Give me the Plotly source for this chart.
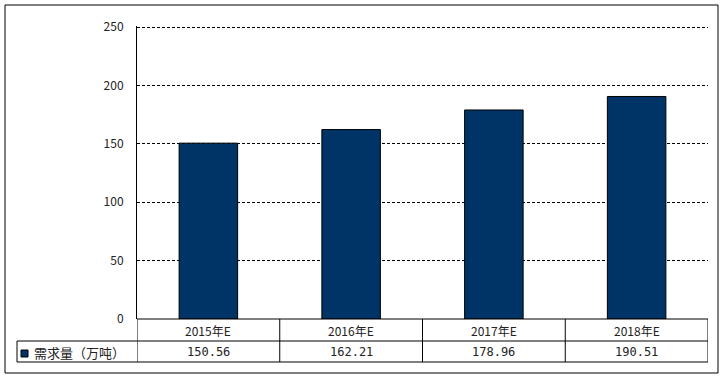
import plotly.graph_objects as go

categories = ["2015年E", "2016年E", "2017年E", "2018年E"]
values = [150.56, 162.21, 178.96, 190.51]
value_labels = ["150.56", "162.21", "178.96", "190.51"]
series_name = "需求量（万吨）"
y_ticks = [0, 50, 100, 150, 200, 250]

W, H = 725, 379
BAR_COLOR = "#003366"
FONT = "Noto Sans CJK SC"
MONO = "DejaVu Sans Mono"

def px_x(x):
    return x / W

def px_y(y):
    return (H - y) / H

plot_left, plot_right = 137, 708
plot_bottom = 319
y_max = 251
plot_top = plot_bottom - (plot_bottom - 27) * y_max / 250
row1_bottom, row2_bottom = 341, 362
legend_left = 17

fig = go.Figure()
fig.add_trace(go.Bar(
    x=categories, y=values, width=0.41,
    marker=dict(color=BAR_COLOR, line=dict(color="black", width=1)),
    showlegend=False, hoverinfo="x+y",
))

shapes = []
line = dict(color="black", width=1)
# outer border
shapes.append(dict(type="rect", xref="paper", yref="paper",
                   x0=px_x(5), x1=px_x(718), y0=px_y(373), y1=px_y(5), line=line))
# table horizontal lines
for yy, x0 in [(plot_bottom, plot_left), (row1_bottom, legend_left), (row2_bottom, legend_left)]:
    shapes.append(dict(type="line", xref="paper", yref="paper",
                       x0=px_x(x0), x1=px_x(plot_right), y0=px_y(yy), y1=px_y(yy), line=line))
# table vertical dividers through category boundaries
n = len(categories)
for i in range(n + 1):
    shapes.append(dict(type="line", xref="x", yref="paper",
                       x0=i - 0.5, x1=i - 0.5, y0=px_y(row2_bottom), y1=px_y(plot_bottom), line=line))
# legend column left edge
shapes.append(dict(type="line", xref="paper", yref="paper",
                   x0=px_x(legend_left), x1=px_x(legend_left), y0=px_y(row2_bottom), y1=px_y(row1_bottom), line=line))
# legend key
shapes.append(dict(type="rect", xref="paper", yref="paper",
                   x0=px_x(21), x1=px_x(28), y0=px_y(357), y1=px_y(350),
                   fillcolor=BAR_COLOR, line=dict(color="black", width=1)))

annotations = []
tfont = dict(family=FONT, size=12, color="#222")
vfont = dict(family=MONO, size=12, color="#222")
for c, v in zip(categories, value_labels):
    annotations.append(dict(x=c, xref="x", y=px_y(330), yref="paper", text=c,
                            showarrow=False, font=tfont, xanchor="center", yanchor="middle"))
    annotations.append(dict(x=c, xref="x", y=px_y(352), yref="paper", text=v,
                            showarrow=False, font=vfont, xanchor="center", yanchor="middle"))
annotations.append(dict(x=px_x(32), xref="paper", y=px_y(352), yref="paper", text=series_name,
                        showarrow=False, font=dict(family=FONT, size=13, color="#222"),
                        xanchor="left", yanchor="middle"))

fig.update_layout(
    template="none",
    width=W, height=H,
    margin=dict(l=0, r=0, t=0, b=0, pad=0, autoexpand=False),
    paper_bgcolor="white", plot_bgcolor="white",
    xaxis=dict(domain=[px_x(plot_left), px_x(plot_right)], range=[-0.5, n - 0.5],
               automargin=False,
               showticklabels=False, showgrid=False, zeroline=False, showline=False, ticks=""),
    yaxis=dict(domain=[px_y(plot_bottom), px_y(plot_top)], range=[0, y_max],
               automargin=False,
               tickvals=y_ticks, ticktext=[str(t) for t in y_ticks],
               showgrid=True, gridcolor="black", gridwidth=1, griddash="3px,2px",
               zeroline=False, showline=True, linecolor="black", linewidth=1,
               ticks="", ticklabelstandoff=10,
               tickfont=dict(family=FONT, size=12, color="#222")),
    shapes=shapes, annotations=annotations,
    bargap=0.59,
)

fig.write_html("out.html")
